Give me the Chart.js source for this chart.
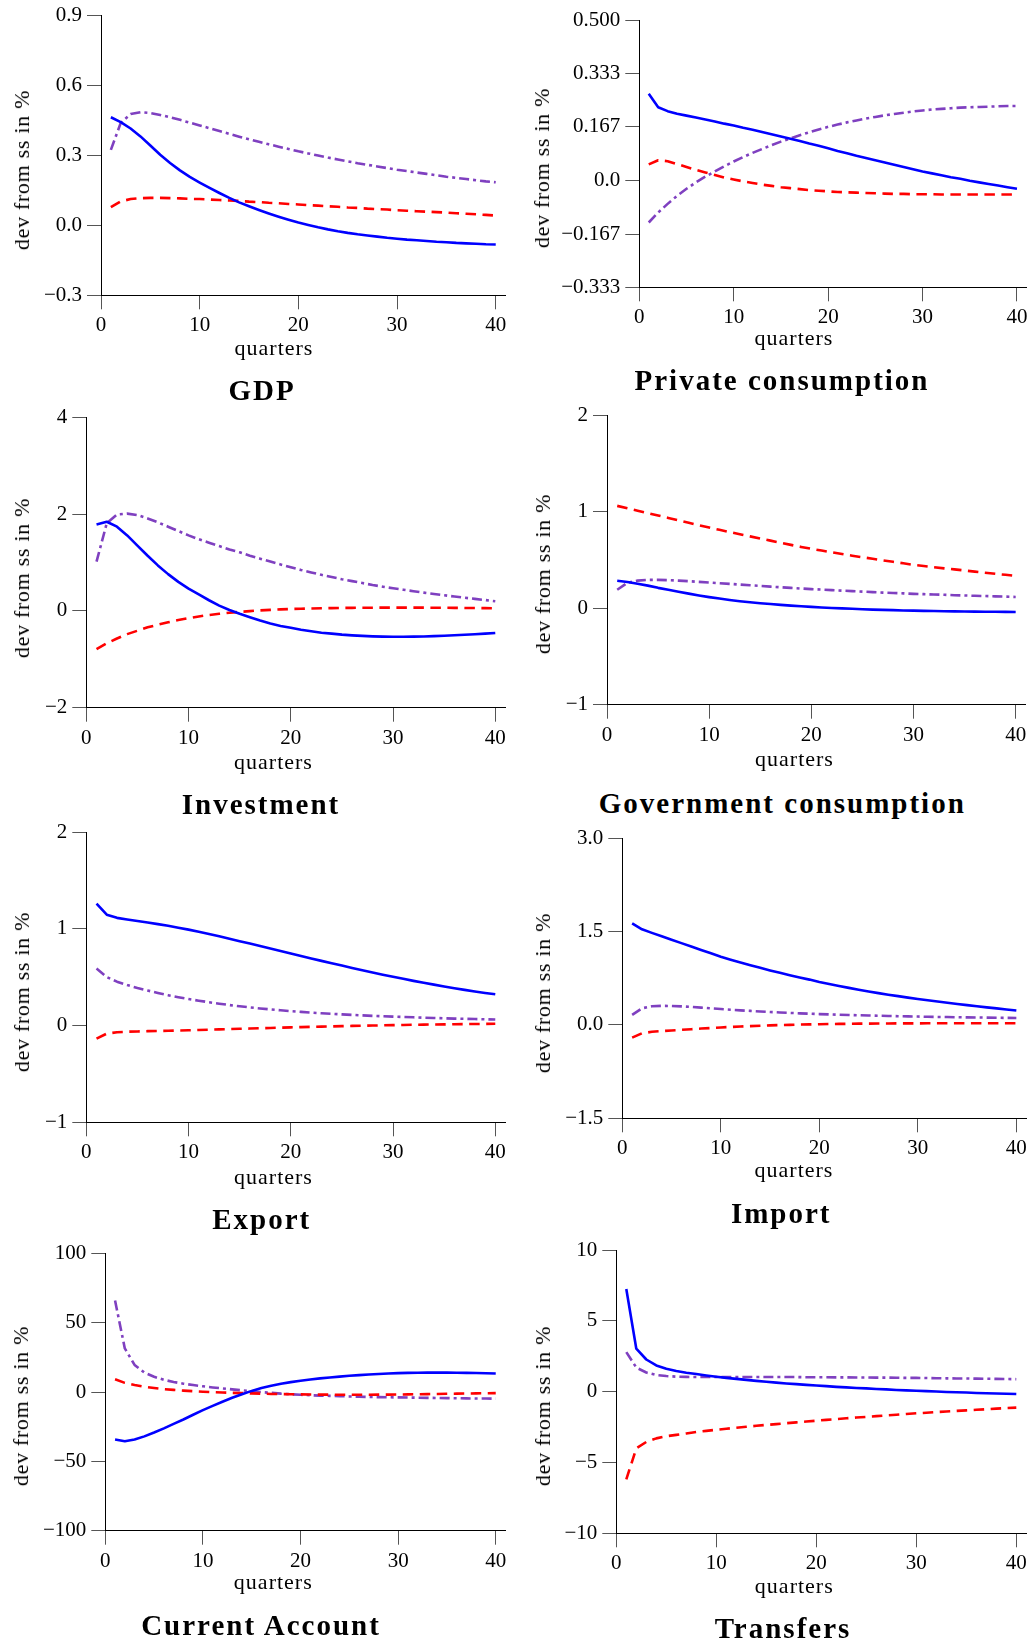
<!DOCTYPE html>
<html><head><meta charset="utf-8">
<script src="https://cdn.jsdelivr.net/npm/chart.js@4.4.1/dist/chart.umd.min.js"></script>
<style>
html,body{margin:0;padding:0;background:#fff;overflow:hidden;}
#page{position:relative;width:1034px;height:1643px;overflow:hidden;background:#fff;}
canvas{position:absolute;}
.t{position:absolute;white-space:nowrap;line-height:1;font-family:"Liberation Serif",serif;color:#000;transform:translate(-50%,-50%);}
.title{font-weight:bold;font-size:29px;letter-spacing:2px;}
.xl{font-size:22px;letter-spacing:1px;}
.yl{font-size:22px;letter-spacing:0.7px;transform:translate(-50%,-50%) rotate(-90deg);}
</style></head><body><div id="page"></div>
<script>
// ---------- DATA ----------
const QUARTERS=[1,2,3,4,5,6,7,8,9,10,11,12,13,14,15,16,17,18,19,20,21,22,23,24,25,26,27,28,29,30,31,32,33,34,35,36,37,38,39,40];
const X_TICKS=[0,10,20,30,40];
const X_TICK_LABELS=['0','10','20','30','40'];
const PANEL_TITLES=['GDP','Private consumption','Investment','Government consumption','Export','Import','Current Account','Transfers'];
const X_LABEL='quarters';
const Y_LABEL='dev from ss in %';

const GDP_Y_TICKS=[-0.3,0,0.3,0.6,0.9];
const GDP_Y_LABELS=['\u22120.3','0.0','0.3','0.6','0.9'];
const GDP_BLUE=[.464,.443,.416,.382,.343,.303,.268,.236,.208,.184,.161,.139,.118,.099,.082,.066,.051,.037,.024,.012,.002,-.008,-.017,-.025,-.032,-.038,-.043,-.048,-.053,-.057,-.061,-.064,-.067,-.07,-.072,-.075,-.077,-.079,-.081,-.082];
const GDP_RED=[.078,.103,.113,.117,.118,.118,.117,.116,.114,.113,.111,.109,.107,.105,.102,.1,.097,.095,.092,.09,.087,.085,.082,.08,.077,.075,.072,.07,.068,.065,.063,.061,.059,.057,.055,.052,.05,.048,.045,.042];
const GDP_PURPLE=[.324,.44,.478,.486,.482,.474,.464,.453,.441,.429,.417,.405,.393,.381,.37,.359,.348,.338,.328,.318,.309,.3,.291,.283,.275,.267,.26,.253,.246,.239,.233,.227,.221,.215,.209,.204,.199,.194,.189,.185];

const PC_Y_TICKS=[-0.333,-0.167,0,0.167,0.333,0.5];
const PC_Y_LABELS=['\u22120.333','\u22120.167','0.0','0.167','0.333','0.500'];
const PC_BLUE=[.27,.228,.216,.208,.202,.196,.19,.184,.177,.171,.164,.158,.151,.144,.137,.13,.123,.115,.108,.1,.092,.085,.077,.07,.063,.056,.049,.042,.035,.028,.022,.016,.01,.005,-.001,-.006,-.011,-.016,-.021,-.026];
const PC_RED=[.05,.063,.06,.051,.042,.033,.025,.017,.009,.003,-.003,-.008,-.013,-.017,-.021,-.024,-.027,-.03,-.032,-.034,-.036,-.037,-.038,-.039,-.04,-.041,-.042,-.042,-.043,-.043,-.043,-.044,-.044,-.044,-.044,-.044,-.044,-.044,-.044,-.044];
const PC_PURPLE=[-.131,-.1,-.073,-.048,-.026,-.006,.012,.028,.044,.059,.073,.086,.098,.11,.121,.131,.141,.15,.159,.167,.174,.181,.187,.193,.198,.203,.207,.211,.215,.218,.221,.223,.225,.227,.228,.229,.23,.231,.232,.232];

const INV_Y_TICKS=[-2,0,2,4];
const INV_Y_LABELS=['\u22122','0','2','4'];
const INV_BLUE=[1.787,1.842,1.74,1.56,1.35,1.14,.94,.76,.6,.46,.34,.22,.11,.02,-.06,-.13,-.2,-.26,-.31,-.35,-.39,-.42,-.45,-.47,-.49,-.505,-.517,-.526,-.532,-.535,-.534,-.532,-.528,-.521,-.512,-.503,-.493,-.482,-.47,-.455];
const INV_RED=[-.79,-.67,-.57,-.48,-.41,-.34,-.285,-.235,-.19,-.15,-.115,-.085,-.06,-.038,-.02,-.004,.01,.021,.031,.039,.045,.05,.054,.058,.061,.063,.065,.066,.067,.068,.068,.068,.067,.066,.065,.063,.061,.059,.057,.055];
const INV_PURPLE=[1.017,1.81,1.99,2.01,1.98,1.91,1.83,1.74,1.65,1.56,1.48,1.41,1.34,1.27,1.21,1.14,1.08,1.02,.96,.9,.845,.795,.745,.7,.655,.615,.575,.535,.5,.468,.437,.407,.378,.35,.323,.297,.272,.248,.225,.2];

const GOV_Y_TICKS=[-1,0,1,2];
const GOV_Y_LABELS=['\u22121','0','1','2'];
const GOV_BLUE=[.283,.27,.252,.233,.21,.19,.17,.15,.131,.114,.099,.085,.072,.061,.051,.042,.034,.026,.019,.013,.007,.002,-.003,-.007,-.011,-.015,-.018,-.021,-.024,-.026,-.028,-.03,-.032,-.034,-.035,-.036,-.037,-.038,-.039,-.04];
const GOV_RED=[1.059,1.034,1.009,.984,.959,.934,.909,.884,.859,.834,.811,.788,.765,.743,.721,.699,.677,.655,.634,.614,.596,.578,.56,.543,.527,.511,.495,.48,.464,.448,.436,.424,.412,.401,.39,.378,.367,.356,.345,.334];
const GOV_PURPLE=[.19,.262,.285,.292,.293,.29,.285,.279,.272,.265,.258,.251,.244,.237,.23,.223,.216,.21,.203,.197,.192,.186,.181,.176,.171,.166,.161,.157,.153,.148,.145,.141,.138,.134,.131,.128,.125,.122,.119,.116];

const EXP_Y_TICKS=[-1,0,1,2];
const EXP_Y_LABELS=['\u22121','0','1','2'];
const EXP_BLUE=[1.262,1.148,1.115,1.098,1.082,1.066,1.05,1.033,1.013,.993,.971,.948,.924,.899,.874,.849,.824,.798,.772,.746,.72,.695,.67,.645,.621,.597,.573,.55,.527,.505,.484,.463,.443,.424,.405,.387,.37,.353,.338,.324];
const EXP_RED=[-.134,-.083,-.068,-.063,-.06,-.057,-.055,-.053,-.05,-.048,-.045,-.042,-.039,-.036,-.033,-.03,-.027,-.024,-.021,-.018,-.015,-.013,-.01,-.008,-.005,-.003,-.001,.001,.003,.005,.007,.009,.01,.012,.013,.015,.016,.017,.018,.019];
const EXP_PURPLE=[.59,.503,.455,.42,.39,.363,.338,.315,.294,.275,.258,.242,.227,.213,.2,.189,.178,.168,.159,.15,.142,.135,.128,.122,.116,.111,.106,.101,.097,.093,.089,.086,.082,.079,.076,.073,.071,.068,.066,.063];

const IMP_Y_TICKS=[-1.5,0,1.5,3];
const IMP_Y_LABELS=['\u22121.5','0.0','1.5','3.0'];
const IMP_BLUE=[1.634,1.537,1.48,1.425,1.37,1.315,1.26,1.205,1.151,1.098,1.05,1.004,.96,.918,.877,.838,.8,.764,.729,.69,.657,.626,.596,.567,.539,.512,.487,.463,.44,.418,.397,.377,.357,.338,.319,.301,.283,.266,.249,.232];
const IMP_RED=[-.204,-.134,-.11,-.098,-.088,-.078,-.068,-.058,-.049,-.04,-.032,-.025,-.018,-.012,-.007,-.002,.002,.006,.009,.012,.015,.017,.019,.021,.022,.023,.024,.025,.026,.026,.027,.027,.027,.027,.027,.027,.027,.027,.027,.027];
const IMP_PURPLE=[.161,.268,.3,.307,.305,.299,.29,.279,.267,.256,.245,.235,.226,.217,.209,.201,.194,.187,.181,.175,.17,.165,.16,.156,.152,.148,.145,.141,.138,.135,.132,.129,.127,.124,.122,.12,.118,.116,.114,.112];

const CA_Y_TICKS=[-100,-50,0,50,100];
const CA_Y_LABELS=['\u2212100','\u221250','0','50','100'];
const CA_BLUE=[-34.3,-35.5,-34.3,-32,-29.2,-26.2,-23,-19.8,-16.4,-13.1,-10,-7,-4.2,-1.6,.8,2.9,4.5,5.9,7.1,8.1,9,9.8,10.5,11.1,11.7,12.2,12.6,13,13.3,13.6,13.8,13.9,14,14,14,13.9,13.8,13.7,13.5,13.3];
const CA_RED=[9.2,6.6,5,3.8,2.9,2.1,1.5,1,.6,.2,-.1,-.4,-.6,-.8,-1,-1.2,-1.4,-1.5,-1.6,-1.7,-1.8,-1.9,-1.9,-2,-2,-2,-2,-1.9,-1.9,-1.8,-1.7,-1.6,-1.5,-1.4,-1.3,-1.2,-1.1,-1,-.9,-.8];
const CA_PURPLE=[65.9,31.4,19.5,14,11,8.8,7.2,6,5,4.1,3.3,2.6,1.9,1.2,.5,-.1,-.6,-1.2,-1.6,-2,-2.3,-2.6,-2.8,-3,-3.2,-3.4,-3.6,-3.7,-3.8,-3.9,-4,-4.1,-4.2,-4.3,-4.4,-4.5,-4.6,-4.7,-4.7,-4.8];

const TR_Y_TICKS=[-10,-5,0,5,10];
const TR_Y_LABELS=['\u221210','\u22125','0','5','10'];
const TR_BLUE=[7.25,3.03,2.27,1.85,1.62,1.46,1.34,1.24,1.14,1.05,.97,.9,.83,.76,.7,.64,.58,.53,.48,.43,.39,.34,.3,.26,.23,.19,.16,.12,.09,.06,.04,.01,-.02,-.04,-.06,-.09,-.11,-.13,-.15,-.17];
const TR_RED=[-6.2,-4,-3.55,-3.3,-3.15,-3.05,-2.95,-2.85,-2.77,-2.69,-2.62,-2.55,-2.48,-2.41,-2.35,-2.29,-2.23,-2.17,-2.11,-2.05,-1.99,-1.94,-1.88,-1.83,-1.78,-1.73,-1.68,-1.63,-1.58,-1.53,-1.49,-1.44,-1.4,-1.36,-1.32,-1.28,-1.24,-1.2,-1.16,-1.13];
const TR_PURPLE=[2.79,1.7,1.35,1.18,1.1,1.06,1.04,1.03,1.03,1.03,1.03,1.03,1.03,1.03,1.03,1.03,1.03,1.03,1.02,1.02,1.02,1.01,1.01,1,1,.99,.99,.98,.97,.97,.96,.95,.94,.93,.93,.92,.91,.9,.89,.88];

// ---------- PANEL WIRING ----------
const PANEL_DATA=[
  {yt:GDP_Y_TICKS,yl:GDP_Y_LABELS,s:[GDP_BLUE,GDP_RED,GDP_PURPLE]},
  {yt:PC_Y_TICKS,yl:PC_Y_LABELS,s:[PC_BLUE,PC_RED,PC_PURPLE]},
  {yt:INV_Y_TICKS,yl:INV_Y_LABELS,s:[INV_BLUE,INV_RED,INV_PURPLE]},
  {yt:GOV_Y_TICKS,yl:GOV_Y_LABELS,s:[GOV_BLUE,GOV_RED,GOV_PURPLE]},
  {yt:EXP_Y_TICKS,yl:EXP_Y_LABELS,s:[EXP_BLUE,EXP_RED,EXP_PURPLE]},
  {yt:IMP_Y_TICKS,yl:IMP_Y_LABELS,s:[IMP_BLUE,IMP_RED,IMP_PURPLE]},
  {yt:CA_Y_TICKS,yl:CA_Y_LABELS,s:[CA_BLUE,CA_RED,CA_PURPLE]},
  {yt:TR_Y_TICKS,yl:TR_Y_LABELS,s:[TR_BLUE,TR_RED,TR_PURPLE]}
];

// ---------- LAYOUT (page pixels) ----------
const X_MAX=41;
const LAYOUT=[
  {l:101,r:505.6,t:15.7,b:295.3,  ylab:[22.3,170],  xlab:[274,347.6],  ti:[262,389.8]},
  {l:639.3,r:1026.4,t:20,b:287.3,  ylab:[542,168.3], xlab:[794,337.6],  ti:[782,379.8]},
  {l:86.3,r:505.5,t:417.3,b:707.7, ylab:[21.7,578.3],xlab:[273.5,761.6],ti:[261,803.8]},
  {l:607,r:1025.9,t:415,b:704.7,   ylab:[542.5,574.2],xlab:[794.5,758.9],ti:[782.3,802.5]},
  {l:86.3,r:505.5,t:832.3,b:1122.3,ylab:[21.7,991.7],xlab:[273.5,1176.6],ti:[261.7,1219]},
  {l:622.3,r:1026.2,t:838.3,b:1118.3,ylab:[542.5,992.5],xlab:[794,1169.9],ti:[781.2,1213.3]},
  {l:105.3,r:505.5,t:1253.3,b:1530.7,ylab:[21.3,1405.8],xlab:[273.3,1581.6],ti:[261,1625]},
  {l:616.3,r:1026.3,t:1250,b:1533.3,ylab:[542.5,1405.8],xlab:[794.3,1585.6],ti:[783,1628.3]}
];
const STYLES=[
  {color:'#0000ff',dash:[]},
  {color:'#ff0000',dash:[10.5,6.5]},
  {color:'#7f40c0',dash:[10,4,3,4]}
];
const TICK_FONT={family:'"Liberation Serif", serif',size:21};

const page=document.getElementById('page');
function addText(cls,txt,x,y){
  const d=document.createElement('div');
  d.className='t '+cls; d.textContent=txt;
  d.style.left=x+'px'; d.style.top=y+'px';
  page.appendChild(d);
}

LAYOUT.forEach((g,i)=>{
  const pd=PANEL_DATA[i];
  const cl=Math.floor(g.l-92), ct=Math.floor(g.t-28);
  const cr=Math.min(1034,Math.ceil(g.r+14)), cb=Math.ceil(g.b+50);
  const W=cr-cl, H=cb-ct;
  const xh=46;
  const yw=g.l-cl, pt=g.t-ct, pr=cr-g.r, pb=cb-g.b-xh;
  const cv=document.createElement('canvas');
  cv.width=W; cv.height=H;
  cv.style.left=cl+'px'; cv.style.top=ct+'px';
  cv.style.width=W+'px'; cv.style.height=H+'px';
  page.appendChild(cv);
  const yMin=pd.yt[0], yMax=pd.yt[pd.yt.length-1];
  new Chart(cv,{
    type:'line',
    data:{datasets:pd.s.map((arr,k)=>({
      data:QUARTERS.map((q,j)=>({x:q,y:arr[j]})),
      borderColor:STYLES[k].color,
      borderWidth:2.6,
      borderDash:STYLES[k].dash,
      borderCapStyle:'butt',
      borderJoinStyle:'round',
      pointRadius:0,
      tension:0,
      fill:false
    }))},
    options:{
      responsive:false,animation:false,devicePixelRatio:1,events:[],
      layout:{padding:{left:0,top:pt,right:pr,bottom:pb}},
      plugins:{legend:{display:false},tooltip:{enabled:false},title:{display:false}},
      scales:{
        x:{type:'linear',position:'bottom',min:0,max:X_MAX,
          afterBuildTicks:s=>{s.ticks=X_TICKS.map(v=>({value:v}));},
          afterFit:s=>{s.height=xh;},
          ticks:{autoSkip:false,maxRotation:0,minRotation:0,padding:4,color:'#000',font:TICK_FONT,
            callback:(v)=>X_TICK_LABELS[X_TICKS.indexOf(v)]},
          grid:{drawOnChartArea:false,drawTicks:true,tickLength:14,color:'#555',lineWidth:1},
          border:{display:true,color:'#000',width:1}
        },
        y:{type:'linear',position:'left',min:yMin,max:yMax,
          afterBuildTicks:s=>{s.ticks=pd.yt.map(v=>({value:v}));},
          afterFit:s=>{s.width=yw;},
          ticks:{autoSkip:false,padding:5,color:'#000',font:TICK_FONT,
            callback:(v)=>pd.yl[pd.yt.indexOf(v)]},
          grid:{drawOnChartArea:false,drawTicks:true,tickLength:14,color:'#555',lineWidth:1},
          border:{display:true,color:'#000',width:1}
        }
      }
    }
  });
  addText('yl',Y_LABEL,g.ylab[0],g.ylab[1]);
  addText('xl',X_LABEL,g.xlab[0],g.xlab[1]);
  addText('title',PANEL_TITLES[i],g.ti[0],g.ti[1]);
});
</script>
</body></html>
